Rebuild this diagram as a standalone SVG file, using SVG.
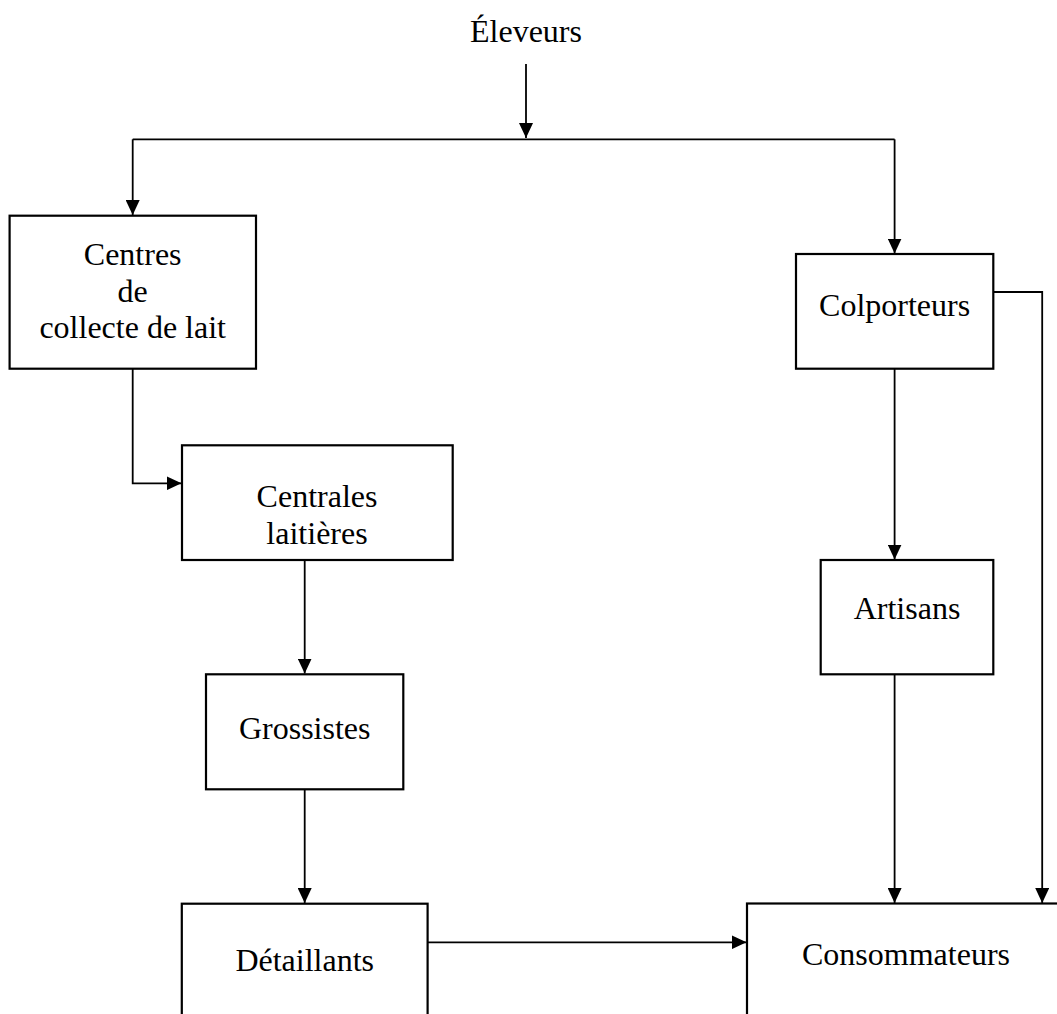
<svg xmlns="http://www.w3.org/2000/svg" width="1057" height="1014" viewBox="0 0 1057 1014">
<style>
rect.box{fill:#fff;stroke:#000;stroke-width:2.2}
text{font-family:"Liberation Serif","Times New Roman",serif;font-size:32px;fill:#000;text-anchor:middle}
.conn path,.conn line{fill:none;stroke:#000;stroke-width:1.8}
</style>
<defs>
<marker id="arr" viewBox="0 0 15 14" markerWidth="15" markerHeight="14" refX="15" refY="7" orient="auto" markerUnits="userSpaceOnUse">
<path d="M0,0 L15,7 L0,14 z" fill="#000"/>
</marker>
</defs>
<rect width="1057" height="1014" fill="#fff"/>
<g class="conn" id="connectors">
<line x1="526" y1="64" x2="526" y2="138" marker-end="url(#arr)"/>
<path d="M132.7,139.3 H894.6"/>
<path d="M132.7,139.3 V215" marker-end="url(#arr)"/>
<path d="M894.6,139.3 V253.5" marker-end="url(#arr)"/>
<path d="M132.7,368.7 V483.3 H181.5" marker-end="url(#arr)"/>
<path d="M304.7,560 V673.5" marker-end="url(#arr)"/>
<path d="M304.7,789.3 V903" marker-end="url(#arr)"/>
<path d="M894.6,368.7 V559.5" marker-end="url(#arr)"/>
<path d="M894.6,674.5 V903" marker-end="url(#arr)"/>
<path d="M993.3,292 H1042.2 V903" marker-end="url(#arr)"/>
<path d="M427.6,942.3 H746.5" marker-end="url(#arr)"/>
</g>
<g id="eleveurs"><text x="526" y="42">Éleveurs</text></g>
<g id="centres">
<rect class="box" x="9.6" y="215.7" width="246.4" height="153"/>
<text x="132.7" y="265">Centres</text>
<text x="132.7" y="301.5">de</text>
<text x="132.7" y="338.3">collecte de lait</text>
</g>
<g id="colporteurs">
<rect class="box" x="796" y="254" width="197.3" height="114.7"/>
<text x="894.6" y="316">Colporteurs</text>
</g>
<g id="centrales">
<rect class="box" x="182" y="445.3" width="270.7" height="114.7"/>
<text x="317" y="506.7">Centrales</text>
<text x="317" y="544">laitières</text>
</g>
<g id="artisans">
<rect class="box" x="820.7" y="560" width="172.6" height="114.3"/>
<text x="907" y="619">Artisans</text>
</g>
<g id="grossistes">
<rect class="box" x="206" y="674.3" width="197.3" height="115"/>
<text x="304.7" y="739.3">Grossistes</text>
</g>
<g id="detaillants">
<rect class="box" x="181.8" y="903.7" width="245.8" height="150"/>
<text x="304.7" y="970.7">Détaillants</text>
</g>
<g id="consommateurs">
<rect class="box" x="747" y="903.5" width="340" height="150"/>
<text x="906" y="965">Consommateurs</text>
</g>
</svg>
